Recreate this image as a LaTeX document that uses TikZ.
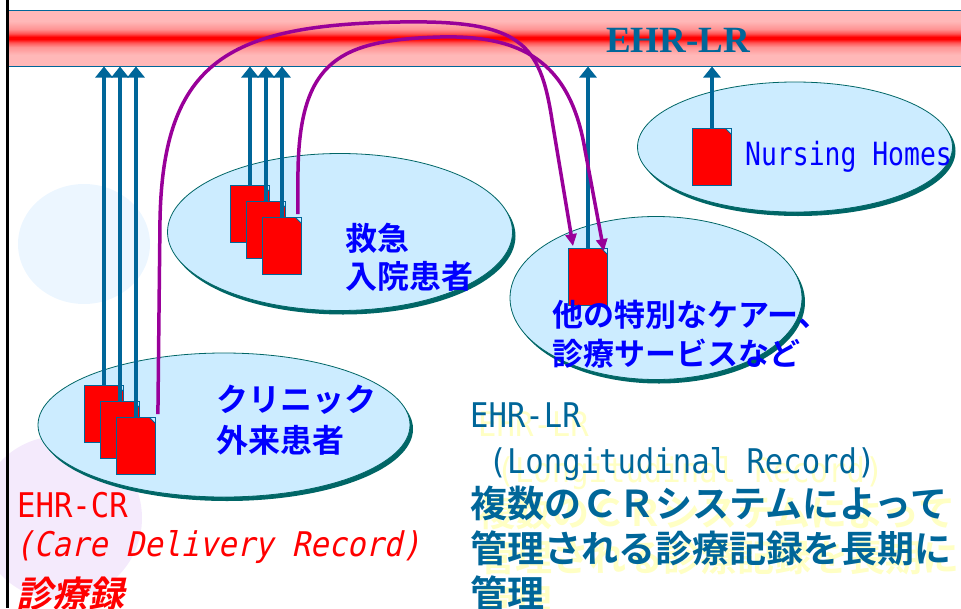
\documentclass[tikz,border=0pt]{standalone}
\usepackage{fontspec}
\usetikzlibrary{shapes.geometric}
\usetikzlibrary{shadows}
\usetikzlibrary{arrows.meta}

\newfontfamily\jpfont{Noto Sans CJK JP}[BoldFont={* Bold}]
\newfontfamily\jpslant{Noto Sans CJK JP Bold}[FakeSlant=0.22]
\newfontfamily\gmono{DejaVu Sans Mono}[FakeStretch=0.9]
\newfontfamily\gmonoslant{DejaVu Sans Mono}[FakeStretch=0.9,FakeSlant=0.22]
\newfontfamily\gmononarrow{DejaVu Sans Mono}[FakeStretch=0.825]
\newfontfamily\titleserif{Liberation Serif}

\definecolor{lrblue}{RGB}{0,102,153}
\definecolor{ellfill}{RGB}{204,236,255}
\definecolor{ellline}{RGB}{0,102,102}
\definecolor{labelblue}{RGB}{0,0,255}
\definecolor{flowpurple}{RGB}{153,0,153}
\definecolor{bandpink}{RGB}{255,184,184}
\definecolor{lrshadow}{RGB}{255,255,196}
\definecolor{cloudblue}{RGB}{236,246,255}
\definecolor{lavender}{RGB}{244,234,252}

\pgfdeclareverticalshading{bandshade}{100bp}{color(0bp)=(bandpink); color(35bp)=(bandpink); color(42bp)=(bandpink!80!red); color(46bp)=(bandpink!45!red); color(49bp)=(red); color(51bp)=(red); color(54bp)=(bandpink!45!red); color(58bp)=(bandpink!80!red); color(65bp)=(bandpink); color(100bp)=(bandpink)}

\begin{document}
\begin{tikzpicture}[x=1pt,y=-1pt,
  pool/.style={ellipse,draw=ellline,line width=0.8pt,fill=ellfill,inner sep=0pt,
    drop shadow={shadow xshift=3pt,shadow yshift=-4pt,fill=ellline,opacity=1}},
  sheet/.style={rectangle,draw=lrblue,line width=0.8pt,fill=red,inner sep=0pt,
    minimum width=39pt,minimum height=57pt,
    path picture={
      \fill[ellfill] ([xshift=-6pt]path picture bounding box.north east) -- (path picture bounding box.north east) -- ([yshift=-6pt]path picture bounding box.north east) -- cycle;
      \draw[lrblue,line width=0.8pt] ([xshift=-6pt]path picture bounding box.north east) -- ([yshift=-6pt]path picture bounding box.north east);}},
  upload/.style={draw=lrblue,line width=3.5pt,-{Triangle[length=11pt,width=17pt]}},
  transfer/.style={draw=flowpurple,line width=3.5pt,-{Triangle[length=12pt,width=11pt]}},
  jplabel/.style={font=\jpfont\bfseries\fontsize{32}{38}\selectfont,text=labelblue,inner sep=0pt,anchor=base west},
  monotext/.style={font=\gmono\fontsize{34}{40}\selectfont,inner sep=0pt,anchor=base west},
  lrjp/.style={font=\jpfont\bfseries\fontsize{37}{45}\selectfont,inner sep=0pt,anchor=base west}]
\useasboundingbox (0,0) rectangle (961,608);

% faint backdrop
\fill[cloudblue] (84,244) ellipse [x radius=66,y radius=60];
\fill[lavender] (60,518) circle [radius=82];

% EHR-LR bar
\node[shade,shading=bandshade,draw=lrblue,line width=1pt,inner sep=0pt,anchor=north west,
  minimum width=980pt,minimum height=56pt] (band) at (8,9.5) {};
\node[font=\titleserif\bfseries\fontsize{37}{40}\selectfont,text=lrblue,anchor=base,inner sep=0pt] (lrtitle) at (678,52) {EHR-LR};
\draw[black,line width=3pt] (7,0) -- (7,608);

% care settings
\node[pool,minimum width=372pt,minimum height=144pt] (clinic) at (224,425) {};
\node[pool,minimum width=345pt,minimum height=157pt] (emerg) at (340,232) {};
\node[pool,minimum width=292pt,minimum height=163pt] (other) at (656,298) {};
\node[pool,minimum width=315pt,minimum height=130pt] (nursing) at (795,147) {};

% records
\node[sheet] (docC1) at (104,414) {};
\node[sheet] (docC2) at (120,430) {};
\node[sheet] (docC3) at (136,446) {};
\node[sheet] (docE1) at (250,214) {};
\node[sheet] (docE2) at (266,230) {};
\node[sheet] (docE3) at (282,246) {};
\node[sheet] (docO) at (588,277) {};
\node[sheet] (docN) at (712,157) {};

% uploads to the longitudinal record
\draw[upload] (docC1.north) -- (docC1.north |- band.south);
\draw[upload] (docC2.north) -- (docC2.north |- band.south);
\draw[upload] (docC3.north) -- (docC3.north |- band.south);
\draw[upload] (docE1.north) -- (docE1.north |- band.south);
\draw[upload] (docE2.north) -- (docE2.north |- band.south);
\draw[upload] (docE3.north) -- (docE3.north |- band.south);
\draw[upload] (docO.north) -- (docO.north |- band.south);
\draw[upload] (docN.north) -- (docN.north |- band.south);

% records passed on through the bar
\draw[transfer] ([xshift=2pt,yshift=3pt]docC3.north east) -- (160,220)
  .. controls (163,60) and (230,25) .. (400,22)
  .. controls (520,20) and (540,42) .. (552,120) -- ([xshift=-15pt,yshift=2pt]docO.north);
\draw[transfer] ([xshift=-4pt,yshift=3pt]docE3.north east) -- (298,170)
  .. controls (300,60) and (340,40) .. (440,37)
  .. controls (520,35) and (570,60) .. (585,150) -- ([xshift=-4pt,yshift=-3pt]docO.north east);

% labels
\node[jplabel] (emergA) at (345,250) {救急};
\node[jplabel] (emergB) at (345,288) {入院患者};
\node[jplabel] (clinicA) at (216,411) {クリニック};
\node[jplabel] (clinicB) at (216,452) {外来患者};
\node[jplabel,font=\jpfont\bfseries\fontsize{31}{38}\selectfont] (otherA) at (552,326) {他の特別なケアー、};
\node[jplabel,font=\jpfont\bfseries\fontsize{31}{38}\selectfont] (otherB) at (552,365) {診療サービスなど};
\node[font=\gmononarrow\fontsize{32}{38}\selectfont,text=labelblue,inner sep=0pt,anchor=base west] (nursingtxt) at (745,165) {Nursing Homes};

\node[monotext,text=red] (crhead) at (17,517) {EHR-CR};
\node[monotext,font=\gmonoslant\fontsize{34}{40}\selectfont,text=red] (crsub) at (15,556) {(Care Delivery Record)};
\node[lrjp,font=\jpslant\fontsize{36}{44}\selectfont,text=red] (crjp) at (16,607) {診療録};

\foreach \sx/\sy/\col/\tag in {8/9/lrshadow/S,0/0/lrblue/M}{
\begin{scope}[shift={(\sx,\sy)}]
\node[monotext,text=\col] (lrhead\tag) at (470,427) {EHR-LR};
\node[monotext,text=\col] (lrsub\tag) at (470,473) {\ (Longitudinal Record)};
\node[lrjp,text=\col] (lrjpA\tag) at (470,517) {複数のＣＲシステムによって};
\node[lrjp,text=\col] (lrjpB\tag) at (470,562) {管理される診療記録を長期に};
\node[lrjp,text=\col] (lrjpC\tag) at (470,607) {管理};
\end{scope}
}

\end{tikzpicture}
\end{document}
